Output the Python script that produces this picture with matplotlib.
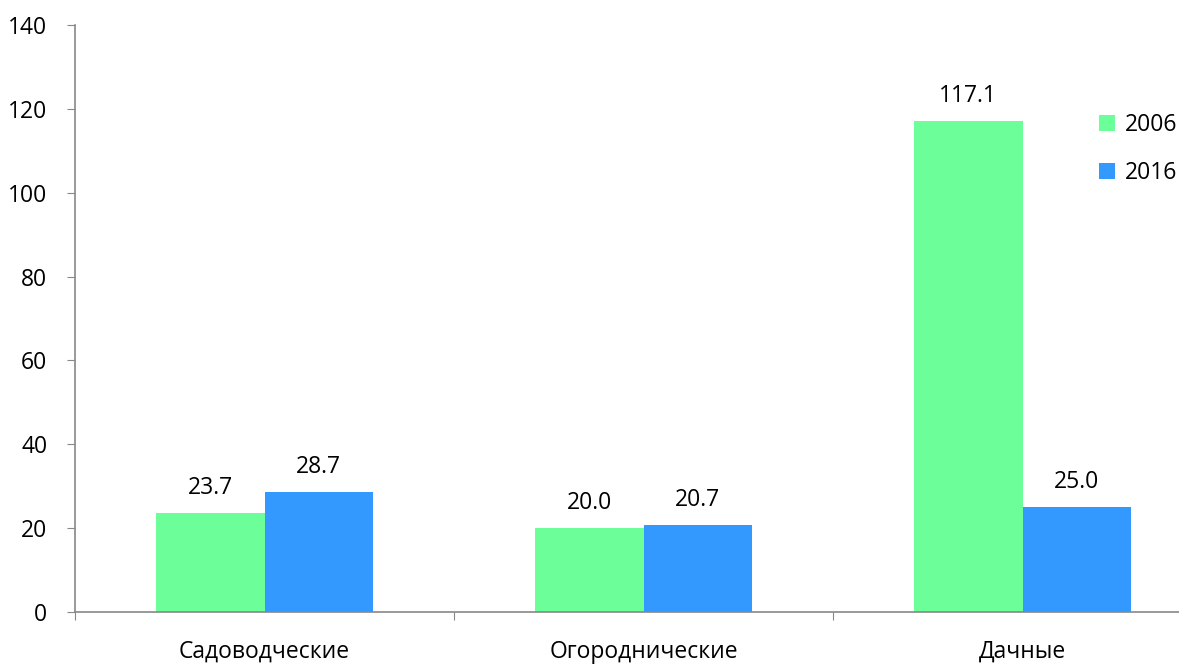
import numpy as np
import matplotlib.pyplot as plt

categories = ["Садоводческие", "Огороднические", "Дачные"]
years = ["2006", "2016"]
values_2006 = [23.7, 20.0, 117.1]
values_2016 = [28.7, 20.7, 25.0]
colors = ["#6cff99", "#3399ff"]

plt.rcParams['font.family'] = ['Open Sans', 'DejaVu Sans']
FS = 16.5

W, H = 1179, 666
fig = plt.figure(figsize=(W/100, H/100), dpi=100)
# plot area runs past the right edge of the picture, as in the original
left, right, top, bottom = 75, 1212, 25, 612
ax = fig.add_axes([left/W, 1 - bottom/H, (right-left)/W, (bottom-top)/H])

x = np.arange(len(categories)) + 0.5
bw = 0.286
bars1 = ax.bar(x - bw/2, values_2006, bw, color=colors[0], label=years[0])
bars2 = ax.bar(x + bw/2, values_2016, bw, color=colors[1], label=years[1])

for bars, vals in [(bars1, values_2006), (bars2, values_2016)]:
    for b, v in zip(bars, vals):
        ax.annotate(f"{v:.1f}", (b.get_x() + b.get_width()/2, v),
                    xytext=(0, 13.7), textcoords="offset points",
                    ha="center", va="baseline", fontsize=FS)

ax.set_xlim(0, 3)
ax.set_ylim(0, 140)
ax.set_yticks(range(0, 141, 20))
ax.set_xticks([0, 1, 2, 3])
ax.set_xticklabels([])
ax.set_xticks(x, minor=True)
ax.set_xticklabels(categories, minor=True, fontsize=FS)
ax.tick_params(axis="x", which="minor", length=0, pad=20)
ax.tick_params(axis="x", which="major", length=6, color="#888888")
ax.tick_params(axis="y", length=6, color="#888888", labelsize=FS, pad=14)

for s in ["top", "right"]:
    ax.spines[s].set_visible(False)
for s in ["left", "bottom"]:
    ax.spines[s].set_color("#888888")
    ax.spines[s].set_linewidth(1.2)

fig.legend(handles=[bars1, bars2], labels=years, loc="upper left",
           bbox_to_anchor=(1090/W, 1 - 104/H), frameon=False, fontsize=FS,
           handlelength=0.7, handleheight=0.7, handletextpad=0.4,
           labelspacing=1.05, borderaxespad=0)

fig.savefig("out.png", dpi=100)
